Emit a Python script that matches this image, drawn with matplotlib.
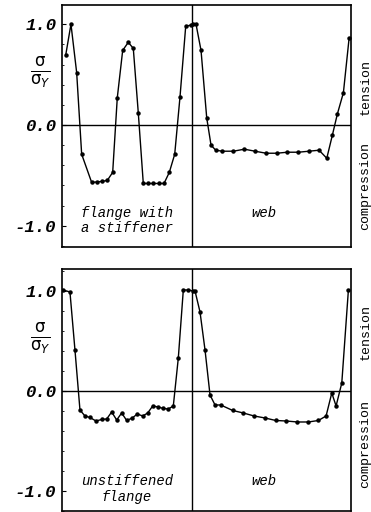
import numpy as np
import matplotlib
matplotlib.use("Agg")
import matplotlib.pyplot as plt
from matplotlib.ticker import MultipleLocator

# position along the cross-section (flange 0..130, web 130..289)
x_top = [3.7, 9, 14.7, 19.7, 29.7, 34.7, 39.7, 45.3, 50.7, 55.3, 60.7, 66.3, 71.3,
         76.3, 81.3, 86.3, 91.3, 97, 102, 107.3, 112.7, 118, 123.7, 128.7, 131.3, 134,
         139, 144.7, 149, 153.7, 160.3, 171.3, 182.3, 193, 204, 214.7, 225.3, 236.3,
         247, 257, 264.7, 270.3, 275.3, 281.3, 287]
s_top = [0.69, 1.0, 0.52, -0.29, -0.57, -0.565, -0.56, -0.55, -0.47, 0.27, 0.74, 0.82,
         0.76, 0.12, -0.58, -0.58, -0.58, -0.58, -0.58, -0.47, -0.29, 0.28, 0.98, 0.99,
         1.0, 1.0, 0.74, 0.07, -0.2, -0.25, -0.26, -0.26, -0.24, -0.26, -0.28, -0.28,
         -0.27, -0.27, -0.26, -0.25, -0.33, -0.1, 0.11, 0.32, 0.86]

x_bot = [1.3, 8, 13, 18, 23, 28, 34, 39.7, 44.7, 49.7, 54.7, 59.7, 64.7, 70.3, 75.3,
         80.7, 85.7, 90.7, 96.3, 101.3, 106.3, 111.3, 116.3, 121.3, 126.3, 131.3, 133,
         138, 143, 148, 153, 158.7, 170.7, 181.3, 192, 203, 213.7, 224, 235.3, 246.3,
         256.3, 264, 269.7, 274, 279.7, 286.3]
s_bot = [1.01, 0.99, 0.41, -0.19, -0.25, -0.265, -0.30, -0.285, -0.28, -0.21, -0.29,
         -0.22, -0.295, -0.27, -0.23, -0.25, -0.22, -0.15, -0.16, -0.175, -0.18, -0.15,
         0.33, 1.01, 1.01, 1.0, 1.0, 0.79, 0.41, -0.04, -0.14, -0.14, -0.195, -0.22,
         -0.25, -0.27, -0.295, -0.30, -0.31, -0.31, -0.295, -0.25, -0.02, -0.15, 0.08,
         1.01]

flange_end = 130
x_end = 288.5
flange_labels = ["flange with\na stiffener", "unstiffened\nflange"]
web_label = "web"

mono = "Liberation Mono"
fig = plt.figure(figsize=(3.71, 5.12), dpi=100)
ax1 = fig.add_axes([0.167, 0.5176, 0.778, 0.4726])
ax2 = fig.add_axes([0.167, 0.002, 0.778, 0.4726])

# axes, x, sigma, flange label, ylim, flange-label y, web-label y, tension y, compression y
panels = [(ax1, x_top, s_top, flange_labels[0], (-1.21, 1.19), -0.95, -0.87, 0.38, -0.61),
          (ax2, x_bot, s_bot, flange_labels[1], (-1.2, 1.22), -0.98, -0.9, 0.59, -0.53)]

for ax, xs, ss, flab, ylim, fy, wy, ty, cy in panels:
    ax.plot(xs, ss, color="black", lw=1.0, marker="o", ms=2.2)
    ax.axhline(0, color="black", lw=1.0)
    ax.axvline(flange_end, color="black", lw=1.0)
    ax.set_xlim(0, x_end)
    ax.set_ylim(*ylim)
    ax.set_xticks([])
    ax.set_yticks([-1.0, 0.0, 1.0])
    ax.set_yticklabels(["-1.0", "0.0", "1.0"], fontfamily=mono, fontweight="bold",
                       fontstyle="italic", fontsize=12.5)
    ax.yaxis.set_minor_locator(MultipleLocator(0.2))
    ax.tick_params(axis="y", which="major", direction="in", length=3, pad=4)
    ax.tick_params(axis="y", which="minor", direction="in", length=1.5)
    for sp in ax.spines.values():
        sp.set_linewidth(1.2)
    ax.text(flange_end / 2, fy, flab, ha="center", va="center", fontfamily=mono,
            fontstyle="italic", fontsize=10, linespacing=1.1)
    ax.text(202, wy, web_label, ha="center", va="center", fontfamily=mono,
            fontstyle="italic", fontsize=10)
    ax.text(-0.075, 0.52, r"$\frac{\mathrm{\sigma}}{\mathrm{\sigma}_Y}$",
            transform=ax.get_yaxis_transform(), ha="center", va="center", fontsize=17)
    ax.text(1.052, ty, "tension", transform=ax.get_yaxis_transform(),
            rotation=90, ha="center", va="center", fontfamily=mono, fontsize=9.5)
    ax.text(1.052, cy, "compression", transform=ax.get_yaxis_transform(),
            rotation=90, ha="center", va="center", fontfamily=mono, fontsize=9.5)

fig.savefig("out.png", dpi=100)
